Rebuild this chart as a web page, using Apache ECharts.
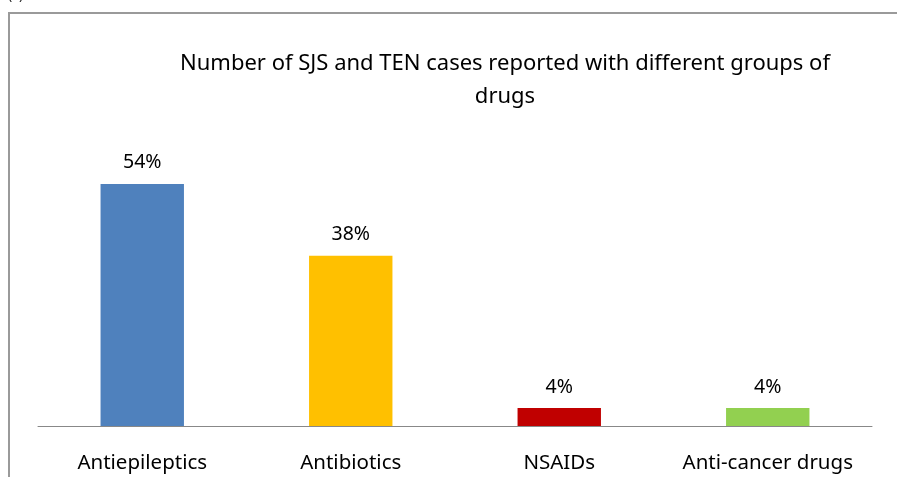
<!DOCTYPE html>
<html>
<head>
<meta charset="utf-8">
<script src="https://cdn.jsdelivr.net/npm/echarts@6/dist/echarts.min.js"></script>
<style>
  html, body { margin: 0; padding: 0; background: #fff; }
  #chart1 { width: 897px; height: 477px; }
</style>
</head>
<body>
<div id="chart1"></div>
<script>
var categories = ['Antiepileptics', 'Antibiotics', 'NSAIDs', 'Anti-cancer drugs'];
var percentValues = [54, 38, 4, 4];
var barColors = ['#4F81BD', '#FFC000', '#C00000', '#92D050'];
var titleLines = ['Number of SJS and TEN cases reported with different groups of', 'drugs'];

var chart1 = echarts.init(document.getElementById('chart1'));
var font = '"Noto Sans", sans-serif';

var seriesData = [];
for (var i = 0; i < percentValues.length; i++) {
    seriesData.push({
        value: percentValues[i],
        itemStyle: { color: barColors[i] }
    });
}

var option = {
    animation: false,
    grid: { left: 38, right: 25, top: 157, bottom: 51 },
    xAxis: {
        type: 'category',
        data: categories,
        axisLine: { lineStyle: { color: '#888', width: 1 } },
        axisTick: { show: false },
        axisLabel: {
            interval: 0,
            hideOverlap: false,
            color: '#000',
            fontSize: 20.5,
            fontFamily: font,
            margin: 27
        }
    },
    yAxis: {
        type: 'value',
        min: 0,
        max: 60,
        show: false
    },
    series: [{
        type: 'bar',
        barWidth: '40%',
        data: seriesData,
        label: {
            show: true,
            position: 'top',
            distance: 11,
            color: '#000',
            fontSize: 19.5,
            fontFamily: font,
            formatter: '{c}%'
        }
    }],
    graphic: [
        // frame from the source document (left and top edges)
        {
            type: 'polyline',
            shape: { points: [[9, 477], [9, 13], [897, 13]] },
            style: { stroke: '#9a9a9a', lineWidth: 2, fill: null }
        },
        {
            type: 'text', x: 8, y: -12,
            style: { text: '(c).', font: '14px ' + font, fill: '#222' }
        },
        {
            type: 'text', x: 505, y: 64,
            style: { text: titleLines[0], font: '22px ' + font, fill: '#000', textAlign: 'center', textVerticalAlign: 'middle' }
        },
        {
            type: 'text', x: 505, y: 97,
            style: { text: titleLines[1], font: '22px ' + font, fill: '#000', textAlign: 'center', textVerticalAlign: 'middle' }
        }
    ]
};
chart1.setOption(option);
</script>
</body>
</html>
